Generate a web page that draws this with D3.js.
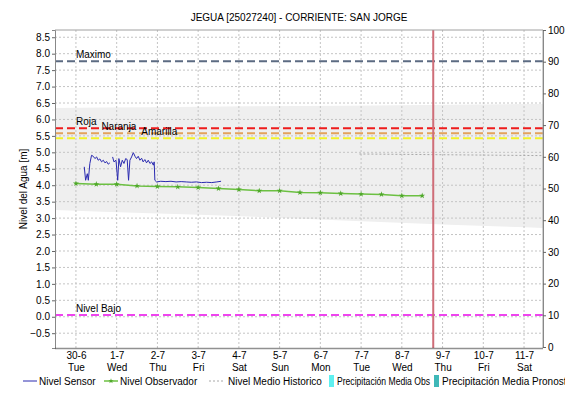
<!DOCTYPE html>
<html>
<head>
<meta charset="utf-8">
<script src="https://cdn.jsdelivr.net/npm/d3@7"></script>
<style>
body { margin: 0; background: #fff; }
text { font-family: "Liberation Sans", Arial, sans-serif; font-size: 10px; fill: #000; }
</style>
</head>
<body>
<svg id="chart" width="565" height="397"></svg>
<script>
// ---- data (hours counted from 30-6-2020 00:00) ----
var chartTitle = "JEGUA [25027240] - CORRIENTE: SAN JORGE";

var sensorHours = [4.9, 5.7, 6.7, 7.3, 8.2, 9.2, 10.2, 11.2, 12.2, 13.1, 14.1, 15.1, 16.1, 17.1, 18.1, 19.0, 20.0,
  20.8,
  21.6, 22.4, 23.6, 24.6, 25.3, 26.3, 27.3, 28.3, 29.3, 30.2, 31.0, 31.8, 32.8, 33.8, 34.8, 35.7, 36.7, 37.7,
  38.7, 39.6, 40.6, 41.6, 42.6, 43.6, 44.6, 45.6, 46.1, 46.5, 47.5, 50, 53, 56, 59, 62, 65, 68, 71, 74, 77, 80, 83, 85.5];
var sensorValues = [4.56, 4.15, 4.35, 4.15, 4.66, 4.91, 4.88, 4.81, 4.86, 4.76, 4.80, 4.71, 4.76, 4.68, 4.72, 4.64, 4.68,
  null,
  4.86, 4.71, 4.76, 4.15, 4.81, 4.56, 4.76, 4.66, 4.81, 4.78, 4.15, 4.76, 4.86, 4.99, 4.88, 4.81, 4.88, 4.76,
  4.82, 4.71, 4.78, 4.68, 4.76, 4.66, 4.71, 4.61, 4.71, 4.15, 4.10, 4.12, 4.11, 4.12, 4.10, 4.11, 4.10, 4.09, 4.10, 4.08, 4.09, 4.08, 4.10, 4.12];

var observerHours = [0, 12, 24, 36, 48, 60, 72, 84, 96, 108, 120, 132, 144, 156, 168, 180, 192, 204];
var observerValues = [4.05, 4.03, 4.03, 3.98, 3.96, 3.95, 3.93, 3.90, 3.87, 3.83, 3.83, 3.78, 3.77, 3.75, 3.73, 3.72, 3.68, 3.68];

var histMeanHours = [167, 276];
var histMeanValues = [4.95, 4.90];

var bandHours = [-13, 44, 102, 161, 220, 276];
var bandLow = [3.25, 3.15, 3.05, 2.92, 2.80, 2.70];
var bandHigh = [6.35, 6.37, 6.40, 6.42, 6.45, 6.47];

var thresholdNames = ["Maximo", "Roja", "Naranja", "Amarilla", "Nivel Bajo"];
var thresholdValues = [7.77, 5.73, 5.58, 5.43, 0.05];

var nowHour = 210.5;

var leftTicks = d3.range(-0.5, 8.51, 0.5);
var rightTicks = d3.range(0, 101, 10);
var legendNames = ["Nivel Sensor", "Nivel Observador", "Nivel Medio Historico", "Precipitación Media Obs", "Precipitación Media Pronosticada"];

// ---- styles ----
var thresholdColors = { "Maximo": "#5c6b82", "Roja": "#ee1c1c", "Naranja": "#e3a25c", "Amarilla": "#f2f228", "Nivel Bajo": "#ee44ee" };
var labelHour = { "Maximo": 0, "Roja": 0, "Naranja": 15, "Amarilla": 38.5, "Nivel Bajo": 0 };

var t0 = new Date(2020, 5, 30, 0, 0);
function hourDate(h) { return new Date(t0.getTime() + h * 3600000); }

var pL = 55, pR = 543, pT = 30, pB = 348;

var svg = d3.select("#chart");
svg.append("rect").attr("width", 565).attr("height", 397).attr("fill", "#fff");

var x = d3.scaleTime()
  .domain([new Date(2020, 5, 29, 11, 40), new Date(2020, 6, 11, 11, 10)])
  .range([pL, pR]);
var y = d3.scaleLinear().domain([-0.95, 8.72]).range([pB, pT]);
var y2 = d3.scaleLinear().domain([0, 100]).range([347, 30]);

var plot = svg.append("g");
plot.append("clipPath").attr("id", "clip")
  .append("rect").attr("x", pL).attr("y", pT).attr("width", pR - pL).attr("height", pB - pT);

// historic band
var bandData = bandHours.map(function (h, i) { return { t: hourDate(h), lo: bandLow[i], hi: bandHigh[i] }; });
plot.append("path")
  .datum(bandData)
  .attr("clip-path", "url(#clip)")
  .attr("fill", "#efefef")
  .attr("d", d3.area().x(function (d) { return x(d.t); })
    .y0(function (d) { return y(d.lo); }).y1(function (d) { return y(d.hi); })
    .curve(d3.curveMonotoneX));

// grid
var days = d3.timeDay.range(new Date(2020, 5, 30), new Date(2020, 6, 12));
plot.selectAll("line.vgrid").data(days).enter().append("line")
  .attr("class", "vgrid")
  .attr("x1", function (d) { return x(d); }).attr("x2", function (d) { return x(d); })
  .attr("y1", pT).attr("y2", pB)
  .attr("stroke", "#c4c4c4").attr("stroke-dasharray", "2,2");
plot.selectAll("line.hgrid").data(leftTicks).enter().append("line")
  .attr("class", "hgrid")
  .attr("x1", pL).attr("x2", pR)
  .attr("y1", function (d) { return y(d); }).attr("y2", function (d) { return y(d); })
  .attr("stroke", "#c4c4c4").attr("stroke-dasharray", "2,2");

// historic mean
plot.append("path")
  .datum(histMeanHours.map(function (h, i) { return { t: hourDate(h), v: histMeanValues[i] }; }))
  .attr("clip-path", "url(#clip)")
  .attr("fill", "none").attr("stroke", "#a8a8a8").attr("stroke-dasharray", "2,2")
  .attr("d", d3.line().x(function (d) { return x(d.t); }).y(function (d) { return y(d.v); }));

// thresholds
thresholdNames.forEach(function (name, i) {
  plot.append("line")
    .attr("x1", pL).attr("x2", pR)
    .attr("y1", y(thresholdValues[i])).attr("y2", y(thresholdValues[i]))
    .attr("stroke", thresholdColors[name]).attr("stroke-width", 2)
    .attr("stroke-dasharray", "8,4");
});
thresholdNames.forEach(function (name, i) {
  plot.append("text")
    .attr("x", x(hourDate(labelHour[name])))
    .attr("y", y(thresholdValues[i]) - 3)
    .text(name);
});

// now line
plot.append("line")
  .attr("x1", x(hourDate(nowHour))).attr("x2", x(hourDate(nowHour)))
  .attr("y1", pT).attr("y2", pB)
  .attr("stroke", "#cf6d78").attr("stroke-width", 2);

// sensor
var sensorData = sensorHours.map(function (h, i) { return { t: hourDate(h), v: sensorValues[i] }; });
plot.append("path")
  .datum(sensorData)
  .attr("fill", "none").attr("stroke", "#2a2ab0").attr("stroke-width", 1)
  .attr("d", d3.line().defined(function (d) { return d.v != null; })
    .x(function (d) { return x(d.t); }).y(function (d) { return y(d.v); }));

// observer
var obsData = observerHours.map(function (h, i) { return { t: hourDate(h), v: observerValues[i] }; });
plot.append("path")
  .datum(obsData)
  .attr("fill", "none").attr("stroke", "#6cc042").attr("stroke-width", 1.5)
  .attr("d", d3.line().x(function (d) { return x(d.t); }).y(function (d) { return y(d.v); }));
plot.selectAll("path.obs").data(obsData).enter().append("path")
  .attr("class", "obs")
  .attr("transform", function (d) { return "translate(" + x(d.t) + "," + y(d.v) + ")"; })
  .attr("fill", "#4fa82a")
  .attr("d", d3.symbol().type(d3.symbolStar).size(11));

// frame
svg.append("line").attr("x1", pL).attr("x2", pR).attr("y1", pT).attr("y2", pT).attr("stroke", "#a0a0a0");
svg.append("line").attr("x1", pR).attr("x2", pR).attr("y1", pT).attr("y2", pB).attr("stroke", "#a0a0a0");

// axes
var yAxis = svg.append("g").attr("transform", "translate(" + pL + ",0)")
  .call(d3.axisLeft(y).tickValues(leftTicks).tickFormat(d3.format(".1f")).tickSize(3).tickPadding(2));
var y2Axis = svg.append("g").attr("transform", "translate(" + pR + ",0)")
  .call(d3.axisRight(y2).tickValues(rightTicks).tickSize(3).tickPadding(2));
[yAxis, y2Axis].forEach(function (g) {
  g.select(".domain").attr("stroke", "#888");
  g.selectAll(".tick line").attr("stroke", "#666");
  g.selectAll("text").style("font-family", "\"Liberation Sans\", Arial, sans-serif").style("font-size", "10px").attr("fill", "#000");
});

var xAxis = svg.append("g").attr("transform", "translate(0," + pB + ")")
  .call(d3.axisBottom(x).tickValues(days).tickSize(0).tickFormat(""));
xAxis.select(".domain").attr("stroke", "#222").attr("stroke-width", 1.5).attr("stroke-dasharray", "1,1");
xAxis.selectAll(".tick").each(function (d) {
  var g = d3.select(this);
  g.append("text").attr("y", 11).attr("text-anchor", "middle").text(d3.timeFormat("%-d-%-m")(d));
  g.append("text").attr("y", 23).attr("text-anchor", "middle").text(d3.timeFormat("%a")(d));
});

// titles
svg.append("text").attr("x", (pL + pR) / 2).attr("y", 21).attr("text-anchor", "middle").text(chartTitle);
svg.append("text").attr("transform", "translate(27," + (pT + pB) / 2 + ") rotate(-90)")
  .attr("text-anchor", "middle").text("Nivel del Agua [m]");

// legend
var ly = 381;
var lg = svg.append("g");
lg.append("line").attr("x1", 23).attr("x2", 37).attr("y1", ly).attr("y2", ly).attr("stroke", "#2a2ab0");
lg.append("text").attr("x", 39).attr("y", ly + 3.5).text(legendNames[0]);
lg.append("line").attr("x1", 104).attr("x2", 118).attr("y1", ly).attr("y2", ly).attr("stroke", "#6cc042").attr("stroke-width", 1.5);
lg.append("path").attr("transform", "translate(111," + ly + ")").attr("fill", "#4fa82a").attr("d", d3.symbol().type(d3.symbolStar).size(9));
lg.append("text").attr("x", 120).attr("y", ly + 3.5).text(legendNames[1]);
lg.append("line").attr("x1", 209).attr("x2", 223).attr("y1", ly).attr("y2", ly).attr("stroke", "#a8a8a8").attr("stroke-dasharray", "2,2");
lg.append("text").attr("x", 228).attr("y", ly + 3.5).text(legendNames[2]);
lg.append("rect").attr("x", 329).attr("y", ly - 6).attr("width", 5).attr("height", 12).attr("fill", "#5ff0f0");
lg.append("text").attr("x", 337).attr("y", ly + 3.5).attr("textLength", 93).attr("lengthAdjust", "spacingAndGlyphs").text(legendNames[3]);
lg.append("rect").attr("x", 434).attr("y", ly - 6).attr("width", 5).attr("height", 12).attr("fill", "#3fb8b8");
lg.append("text").attr("x", 442).attr("y", ly + 3.5).text(legendNames[4]);
</script>
</body>
</html>
